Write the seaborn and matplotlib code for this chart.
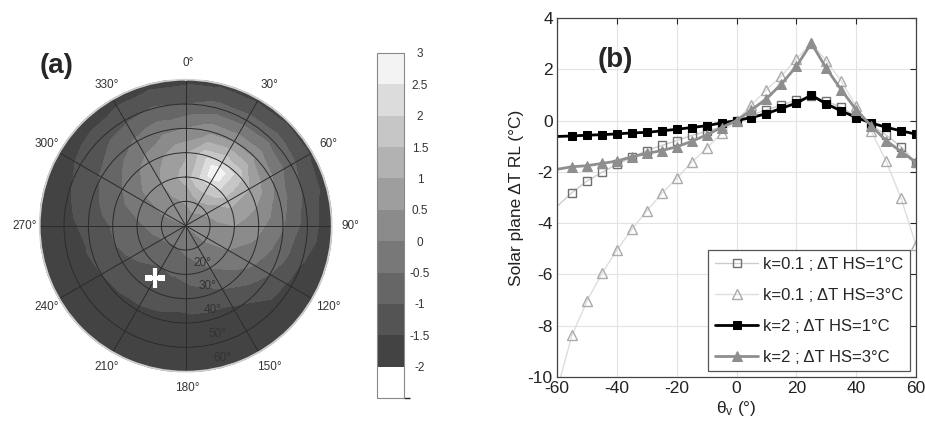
import numpy as np
import matplotlib
matplotlib.use("Agg")
import matplotlib.pyplot as plt
import matplotlib.tri as mtri
from matplotlib.colors import ListedColormap, BoundaryNorm
import seaborn as sns

# ---- panel (b): solar plane profiles ----
THETA_V = [-60, -55, -50, -45, -40, -35, -30, -25, -20, -15, -10, -5, 0,
           5, 10, 15, 20, 25, 30, 35, 40, 45, 50, 55, 60]
DT_K01_HS1 = [-3.35, -2.81, -2.36, -2.02, -1.71, -1.43, -1.17, -0.97, -0.78, -0.58, -0.42, -0.24, 0.0,
              0.22, 0.42, 0.60, 0.80, 0.96, 0.75, 0.52, 0.16, -0.17, -0.56, -1.02, -1.65]
DT_K01_HS3 = [-10.5, -8.37, -7.04, -5.96, -5.05, -4.24, -3.52, -2.84, -2.25, -1.63, -1.08, -0.49, 0.0,
              0.62, 1.20, 1.74, 2.40, 3.02, 2.33, 1.54, 0.55, -0.40, -1.58, -3.03, -4.86]
DT_K2_HS1 = [-0.62, -0.60, -0.57, -0.55, -0.52, -0.48, -0.46, -0.40, -0.34, -0.27, -0.20, -0.09, 0.0,
             0.12, 0.27, 0.48, 0.68, 0.99, 0.65, 0.38, 0.12, -0.09, -0.26, -0.40, -0.53]
DT_K2_HS3 = [-1.90, -1.80, -1.76, -1.67, -1.58, -1.41, -1.28, -1.17, -1.02, -0.81, -0.56, -0.27, 0.0,
             0.42, 0.85, 1.43, 2.11, 3.02, 2.04, 1.20, 0.42, -0.20, -0.78, -1.21, -1.63]
LABELS = ["k=0.1 ; \u0394T HS=1\u00b0C", "k=0.1 ; \u0394T HS=3\u00b0C",
          "k=2 ; \u0394T HS=1\u00b0C", "k=2 ; \u0394T HS=3\u00b0C"]

# ---- panel (a): polar map of dT (k=2, HS=3); solar plane at az 30/210 ----
PLANE_AZ_POS, PLANE_AZ_NEG = 30, 210
MAP_ZEN = [10, 20, 30, 40, 50, 60]
MAP_AZ = [0, 15, 45, 60, 75, 90, 105, 120, 135, 150, 165, 180,
          195, 225, 240, 255, 270, 285, 300, 315, 330, 345]
MAP_DT = [
    [0.55, 1.20, 0.90, 0.00, -1.00, -1.65],    # 0
    [0.70, 1.90, 1.80, 0.35, -0.80, -1.62],    # 15
    [0.70, 1.90, 1.80, 0.40, -0.70, -1.60],    # 45
    [0.55, 1.25, 1.00, 0.10, -0.85, -1.60],    # 60
    [0.45, 0.80, 0.50, -0.25, -1.05, -1.70],   # 75
    [0.35, 0.50, 0.15, -0.45, -1.25, -1.80],   # 90
    [0.20, 0.25, -0.10, -0.70, -1.45, -1.82],  # 105
    [0.10, 0.00, -0.35, -1.00, -1.65, -1.85],  # 120
    [-0.05, -0.25, -0.70, -1.35, -1.75, -1.88],  # 135
    [-0.20, -0.50, -1.00, -1.60, -1.80, -1.90],  # 150
    [-0.30, -0.70, -1.20, -1.65, -1.80, -1.90],  # 165
    [-0.40, -0.85, -1.30, -1.65, -1.80, -1.90],  # 180
    [-0.50, -0.95, -1.30, -1.60, -1.78, -1.90],  # 195
    [-0.50, -0.95, -1.20, -1.55, -1.75, -1.90],  # 225
    [-0.45, -0.85, -1.10, -1.50, -1.72, -1.90],  # 240
    [-0.35, -0.75, -1.00, -1.45, -1.70, -1.88],  # 255
    [-0.25, -0.60, -0.95, -1.35, -1.68, -1.88],  # 270
    [-0.10, -0.40, -0.70, -1.15, -1.55, -1.85],  # 285
    [0.05, -0.15, -0.50, -0.95, -1.40, -1.80],   # 300
    [0.20, 0.20, -0.15, -0.70, -1.25, -1.75],    # 315
    [0.35, 0.50, 0.20, -0.40, -1.10, -1.70],     # 330
    [0.45, 0.85, 0.55, -0.15, -0.95, -1.65],     # 345
]
SUN_AZ, SUN_ZEN = 210, 25
LEVELS = [-2.5, -2, -1.5, -1, -0.5, 0, 0.5, 1, 1.5, 2, 2.5, 3]
BAND_COLORS = ["#ffffff", "#434343", "#545454", "#666666", "#787878", "#8b8b8b",
               "#9e9e9e", "#b2b2b2", "#c6c6c6", "#dcdcdc", "#f3f3f3"]
CB_TICKS = [-2, -1.5, -1, -0.5, 0, 0.5, 1, 1.5, 2, 2.5, 3]
AZ_TICKS = list(range(0, 360, 30))
RING_LABELS = [20, 30, 40, 50, 60]

sns.set_theme(style="white")
plt.rcParams["font.family"] = ["Liberation Sans", "DejaVu Sans"]
plt.rcParams["axes.unicode_minus"] = False

fig = plt.figure(figsize=(9.25, 4.26), dpi=100)

# scattered points for the map: nadir, the solar plane profile, the table
az, zen, val = [0.0], [0.0], [0.0]
for th, v in zip(THETA_V, DT_K2_HS3):
    if th == 0:
        continue
    az.append(PLANE_AZ_POS if th > 0 else PLANE_AZ_NEG)
    zen.append(abs(th))
    val.append(v)
for a, row in zip(MAP_AZ, MAP_DT):
    for z, v in zip(MAP_ZEN, row):
        az.append(a)
        zen.append(z)
        val.append(v)
az = np.deg2rad(az)
zen = np.array(zen, dtype=float)
tri = mtri.Triangulation(zen * np.sin(az), zen * np.cos(az))

rect = [0.0429, 0.1275, 0.3157, 0.6854]
ax_map = fig.add_axes(rect)
ax_map.set_xlim(-60, 60)
ax_map.set_ylim(-60, 60)
ax_map.set_aspect("equal")
ax_map.axis("off")
cmap = ListedColormap(BAND_COLORS)
norm = BoundaryNorm(LEVELS, cmap.N)
ax_map.add_patch(plt.Circle((0, 0), 60, color=BAND_COLORS[1], zorder=0))
cs = ax_map.tricontourf(tri, val, levels=LEVELS, cmap=cmap, norm=norm)
cs.set_clip_path(plt.Circle((0, 0), 60, transform=ax_map.transData))

ax_pol = fig.add_axes(rect, projection="polar")
ax_pol.patch.set_alpha(0)
ax_pol.set_theta_zero_location("N")
ax_pol.set_theta_direction(-1)
ax_pol.set_rlim(0, 60)
ax_pol.set_thetagrids(AZ_TICKS, [""] * len(AZ_TICKS))
ax_pol.set_rgrids([10, 20, 30, 40, 50], [""] * 5)
ax_pol.grid(True, color="#2b2b2b", lw=0.7)
ax_pol.spines["polar"].set_color("#d0d0d0")
for a in AZ_TICKS:
    t = np.deg2rad(a)
    ax_pol.annotate(f"{a}\u00b0", xy=(t, 60), xytext=(12 * np.sin(t) + 1.5, 12 * np.cos(t)),
                    textcoords="offset points", fontsize=8.5, color="#333333",
                    ha="center", va="center")
for r in RING_LABELS:
    ax_pol.annotate(f"{r}\u00b0", xy=(np.deg2rad(168), r - 4.5), xytext=(6.5, 0),
                    textcoords="offset points", fontsize=8.5, color="#333333",
                    ha="center", va="center")
ax_pol.plot(np.deg2rad(SUN_AZ), SUN_ZEN, marker="+", color="white", ms=14, mew=3)
fig.text(0.043, 1 - 66 / 426, "(a)", fontsize=20, fontweight="bold", va="center", ha="left")

cax = fig.add_axes([0.4076, 0.0657, 0.0292, 0.81])
cb = fig.colorbar(cs, cax=cax, ticks=CB_TICKS)
cb.set_ticklabels([f"{t:g}" for t in CB_TICKS])
cb.outline.set_edgecolor("#888888")
cb.outline.set_linewidth(0.8)
cax.tick_params(labelsize=8.5, colors="#333333", direction="in", length=3, width=0.6,
                left=True, pad=11.5)
for lab in cax.get_yticklabels():
    lab.set_horizontalalignment("center")

# ---- panel (b) ----
ax = fig.add_axes([0.6022, 0.115, 0.3881, 0.8427])
marks = list(range(1, len(THETA_V)))
sns.lineplot(x=THETA_V, y=DT_K01_HS1, ax=ax, color="#cdcdcd", lw=1, marker="s", ms=6,
             mfc="none", mec="#707070", mew=1, markevery=marks, label=LABELS[0])
sns.lineplot(x=THETA_V, y=DT_K01_HS3, ax=ax, color="#dedede", lw=1, marker="^", ms=7,
             mfc="none", mec="#ababab", mew=1, markevery=marks, label=LABELS[1])
sns.lineplot(x=THETA_V, y=DT_K2_HS1, ax=ax, color="black", lw=2, marker="s", ms=6,
             mfc="black", mec="black", markevery=marks, label=LABELS[2])
sns.lineplot(x=THETA_V, y=DT_K2_HS3, ax=ax, color="#8e8e8e", lw=2, marker="^", ms=7,
             mfc="#8e8e8e", mec="#8e8e8e", markevery=marks, label=LABELS[3])
ax.set_xlim(-60, 60)
ax.set_ylim(-10, 4)
ax.set_xticks(range(-60, 61, 20))
ax.set_yticks(range(-10, 5, 2))
ax.grid(True, color="#e3e3e3", lw=0.8)
ax.set_axisbelow(True)
ax.tick_params(direction="in", top=True, right=True, length=4, width=0.8,
               labelsize=12.5, labelcolor="#222222", pad=3)
for s in ax.spines.values():
    s.set_color("#444444")
    s.set_linewidth(0.9)
ax.set_ylabel("Solar plane \u0394T RL (\u00b0C)", fontsize=12.5, color="#222222", labelpad=3)
ax.set_xlabel("$\\mathregular{\\theta_v}$ (\u00b0)", fontsize=12.5, color="#222222", labelpad=2)
ax.text(-46.5, 2.35, "(b)", fontsize=20, fontweight="bold", ha="left", va="center")
leg = ax.legend(loc="lower right", fontsize=12, frameon=True, fancybox=False,
                framealpha=1, edgecolor="#555555", handlelength=2.6, labelspacing=0.95,
                borderaxespad=0.35, handletextpad=0.3)
leg.get_frame().set_linewidth(0.9)

fig.savefig("out.png", dpi=100)
